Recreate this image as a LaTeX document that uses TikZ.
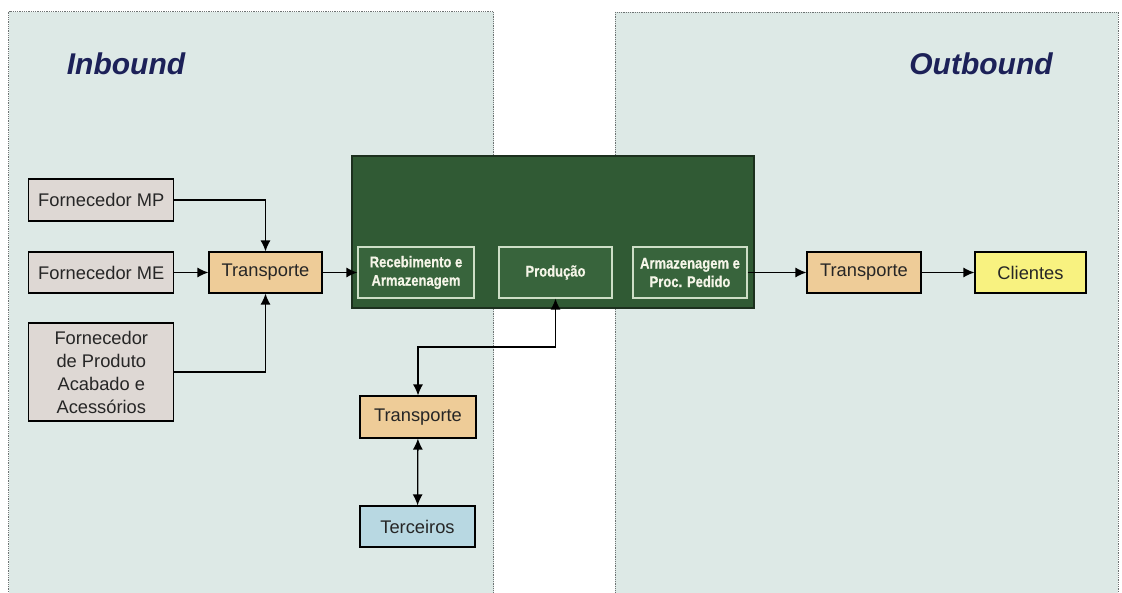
\documentclass[tikz,border=0pt]{standalone}
\usepackage{fontspec}
\setmainfont{Liberation Sans}
\newfontfamily\stagefont[FakeStretch=0.84, FakeBold=0.6]{Liberation Sans Bold}
\usetikzlibrary{arrows.meta}

\definecolor{panelfill}{RGB}{221,233,230}
\definecolor{panelline}{RGB}{110,115,115}
\definecolor{supplierfill}{RGB}{222,216,212}
\definecolor{transportfill}{RGB}{238,204,152}
\definecolor{clientfill}{RGB}{248,242,128}
\definecolor{thirdfill}{RGB}{184,216,226}
\definecolor{plantfill}{RGB}{48,90,52}
\definecolor{plantline}{RGB}{28,48,30}
\definecolor{stagefill}{RGB}{56,100,60}
\definecolor{stageline}{RGB}{205,222,198}
\definecolor{stagetext}{RGB}{245,245,232}
\definecolor{titlecol}{RGB}{28,33,88}

\tikzset{
  panel/.style={fill=panelfill, draw=panelline, line width=0.7pt, dash pattern=on 1pt off 0.8pt},
  boxbase/.style={draw=black, line width=1.1pt, inner sep=0pt, align=center,
    font=\fontsize{18.3}{23}\selectfont, text=black!85},
  supplier/.style={boxbase, fill=supplierfill, minimum width=145pt},
  carrier/.style={boxbase, fill=transportfill, minimum width=114pt, minimum height=41pt},
  client/.style={boxbase, fill=clientfill, minimum width=111pt, minimum height=41pt},
  third/.style={boxbase, fill=thirdfill, minimum width=115pt, minimum height=41pt},
  plant/.style={fill=plantfill, draw=plantline, line width=1.4pt, inner sep=0pt,
    minimum width=402pt, minimum height=152pt},
  stage/.style={fill=stagefill, draw=stageline, line width=1.1pt, inner sep=0pt, align=center,
    minimum height=51pt, text=stagetext, font=\stagefont\fontsize{15.5}{18.5}\selectfont},
  title/.style={text=titlecol, font=\fontsize{30}{36}\selectfont\bfseries\itshape},
  tip/.tip={Latex[length=11pt,width=10pt]},
  flow/.style={line width=1.3pt, -tip},
  twoway/.style={line width=1.3pt, tip-tip}
}

\begin{document}
\begin{tikzpicture}[x=1pt, y=-1pt]
\useasboundingbox (0,0) rectangle (1122,593);
\clip (0,0) rectangle (1122,593);
\fill[white] (0,0) rectangle (1122,593);

% the two flow regions
\draw[panel] (8.6,11.7) rectangle (493.6,605);
\draw[panel] (615,12) rectangle (1118,605);
\node[title] (inb) at (126,64) {Inbound};
\node[title] (outb) at (981,64) {Outbound};

% suppliers and inbound transport
\node[supplier, minimum height=42pt] (mp) at (101.3,200) {Fornecedor MP};
\node[supplier, minimum height=41pt] (me) at (101.3,272.5) {Fornecedor ME};
\node[supplier, minimum height=98pt] (pa) at (101.3,372) {Fornecedor\\de Produto\\Acabado e\\Acessórios};
\node[carrier, minimum width=113pt] (tin) at (265.5,272.5) {Transporte};

% plant with its three stages
\node[plant] (plant) at (553,232) {};
\node[stage, minimum width=116pt] (rec) at (416,272.5) {Recebimento e\\Armazenagem};
\node[stage, minimum width=113pt] (prod) at (555.5,272.5) {Produção};
\node[stage, minimum width=114pt] (arm) at (690,272.5) {Armazenagem e\\Proc. Pedido};

% outsourced branch
\node[carrier, minimum width=116pt, minimum height=42pt] (tmid) at (418,417) {Transporte};
\node[third] (terc) at (417.5,526.5) {Terceiros};

% outbound
\node[carrier] (tout) at (864,272.5) {Transporte};
\node[client] (cli) at (1030.5,272.5) {Clientes};

% connectors
\draw[flow] (mp.east) -| (tin.north);
\draw[flow] (me) -- (tin);
\draw[flow] (pa.east) -| (tin.south);
\draw[flow] (tin) -- (rec);
\coordinate (bend) at (0,347);
\draw[twoway] (prod.south) |- (bend -| tmid.north) -- (tmid.north);
\draw[twoway] (tmid) -- (terc);
\draw[flow] (arm) -- (tout);
\draw[flow] (tout) -- (cli);
\end{tikzpicture}
\end{document}
